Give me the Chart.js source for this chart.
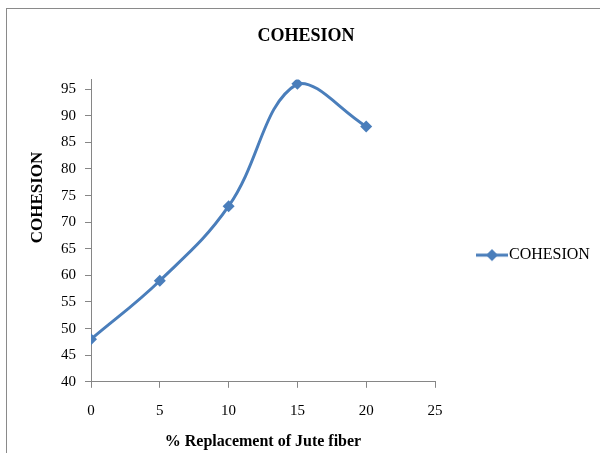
<!DOCTYPE html>
<html>
<head>
<meta charset="utf-8">
<script src="https://cdn.jsdelivr.net/npm/chart.js@4.4.1/dist/chart.umd.min.js"></script>
<style>
  body { margin: 0; background: #fff; }
  #wrap { position: relative; width: 600px; height: 453px; }
  #frame { position: absolute; left: 6px; top: 8px; width: 640px; height: 500px;
           border-left: 1px solid #8a8a8a; border-top: 1px solid #8a8a8a; pointer-events: none; }
</style>
</head>
<body>
<div id="wrap">
  <canvas id="cohesion_chart" width="600" height="453"></canvas>
  <div id="frame"></div>
</div>
<script>
// data
var replacement = [0, 5, 10, 15, 20];
var cohesion = [48, 59, 73, 96, 88];
var x_ticks = [0, 5, 10, 15, 20, 25];
var y_ticks = [40, 45, 50, 55, 60, 65, 70, 75, 80, 85, 90, 95];

var line_color = "#4A7EBB";
var axis_color = "#868686";
var serif = "'Liberation Serif', 'Times New Roman', serif";

// legend symbol: short line with a diamond on it
var legend_symbol = (() => {
    var c = document.createElement("canvas");
    c.width = 32;
    c.height = 14;
    var ctx = c.getContext("2d");
    ctx.strokeStyle = line_color;
    ctx.lineWidth = 3;
    ctx.beginPath();
    ctx.moveTo(0, 7);
    ctx.lineTo(32, 7);
    ctx.stroke();
    ctx.fillStyle = line_color;
    ctx.beginPath();
    ctx.moveTo(16, 1);
    ctx.lineTo(22, 7);
    ctx.lineTo(16, 13);
    ctx.lineTo(10, 7);
    ctx.closePath();
    ctx.fill();
    return c;
})();

// the y title sits above the middle of the axis in the original
var y_title_plugin = {
    id: "y_title",
    afterDraw: (chart) => {
        var ctx = chart.ctx;
        var area = chart.chartArea;
        ctx.save();
        ctx.translate(area.left - 53, area.top + area.height * 0.39);
        ctx.rotate(-Math.PI / 2);
        ctx.font = "bold 17px " + serif;
        ctx.fillStyle = "#000";
        ctx.textAlign = "center";
        ctx.textBaseline = "middle";
        ctx.fillText("COHESION", 0, 0);
        ctx.restore();
    }
};

var points = replacement.map((x, i) => ({ x: x, y: cohesion[i] }));

var config = {
    type: "line",
    data: {
        datasets: [{
            label: "COHESION",
            data: points,
            borderColor: line_color,
            backgroundColor: line_color,
            borderWidth: 3,
            tension: 0.4,
            pointStyle: "rectRot",
            pointRadius: 6,
            pointHoverRadius: 6,
            pointBorderWidth: 0
        }]
    },
    options: {
        responsive: false,
        animation: false,
        layout: { padding: { left: 12, right: 0, top: 0, bottom: 2 } },
        plugins: {
            title: {
                display: true,
                text: "COHESION",
                color: "#000",
                font: { family: serif, size: 18, weight: "bold" },
                padding: { top: 26, bottom: 32 }
            },
            legend: {
                position: "right",
                maxWidth: 220,
                title: { display: true, text: "", padding: { top: 0, bottom: 40 }, font: { size: 16 } },
                labels: {
                    usePointStyle: true,
                    pointStyleWidth: 18,
                    padding: 48,
                    color: "#000",
                    font: { family: serif, size: 16 },
                    generateLabels: (chart) => chart.data.datasets.map((ds, i) => ({
                        text: ds.label,
                        fontColor: "#000",
                        pointStyle: legend_symbol,
                        fillStyle: line_color,
                        strokeStyle: line_color,
                        lineWidth: 0,
                        datasetIndex: i
                    }))
                }
            },
            tooltip: { enabled: false }
        },
        scales: {
            x: {
                type: "linear",
                min: 0,
                max: 25,
                afterBuildTicks: (axis) => { axis.ticks = x_ticks.map(v => ({ value: v })); },
                afterFit: (axis) => { axis.paddingRight = 165; },
                border: { color: axis_color, width: 1 },
                grid: { drawOnChartArea: false, drawTicks: true, tickLength: 6, color: axis_color },
                ticks: { color: "#000", padding: 14, font: { family: serif, size: 15 } },
                title: {
                    display: true,
                    text: "% Replacement of Jute fiber",
                    color: "#000",
                    font: { family: serif, size: 16, weight: "bold" },
                    padding: { top: -2, bottom: 0 }
                }
            },
            y: {
                type: "linear",
                min: 40,
                max: 96.8,
                afterBuildTicks: (axis) => { axis.ticks = y_ticks.map(v => ({ value: v })); },
                afterFit: (axis) => { axis.width = 79; },
                border: { color: axis_color, width: 1 },
                grid: { drawOnChartArea: false, drawTicks: true, tickLength: 6, color: axis_color },
                ticks: { color: "#000", padding: 9, font: { family: serif, size: 15 } }
            }
        }
    },
    plugins: [y_title_plugin]
};

var chart = new Chart(document.getElementById("cohesion_chart"), config);
</script>
</body>
</html>
